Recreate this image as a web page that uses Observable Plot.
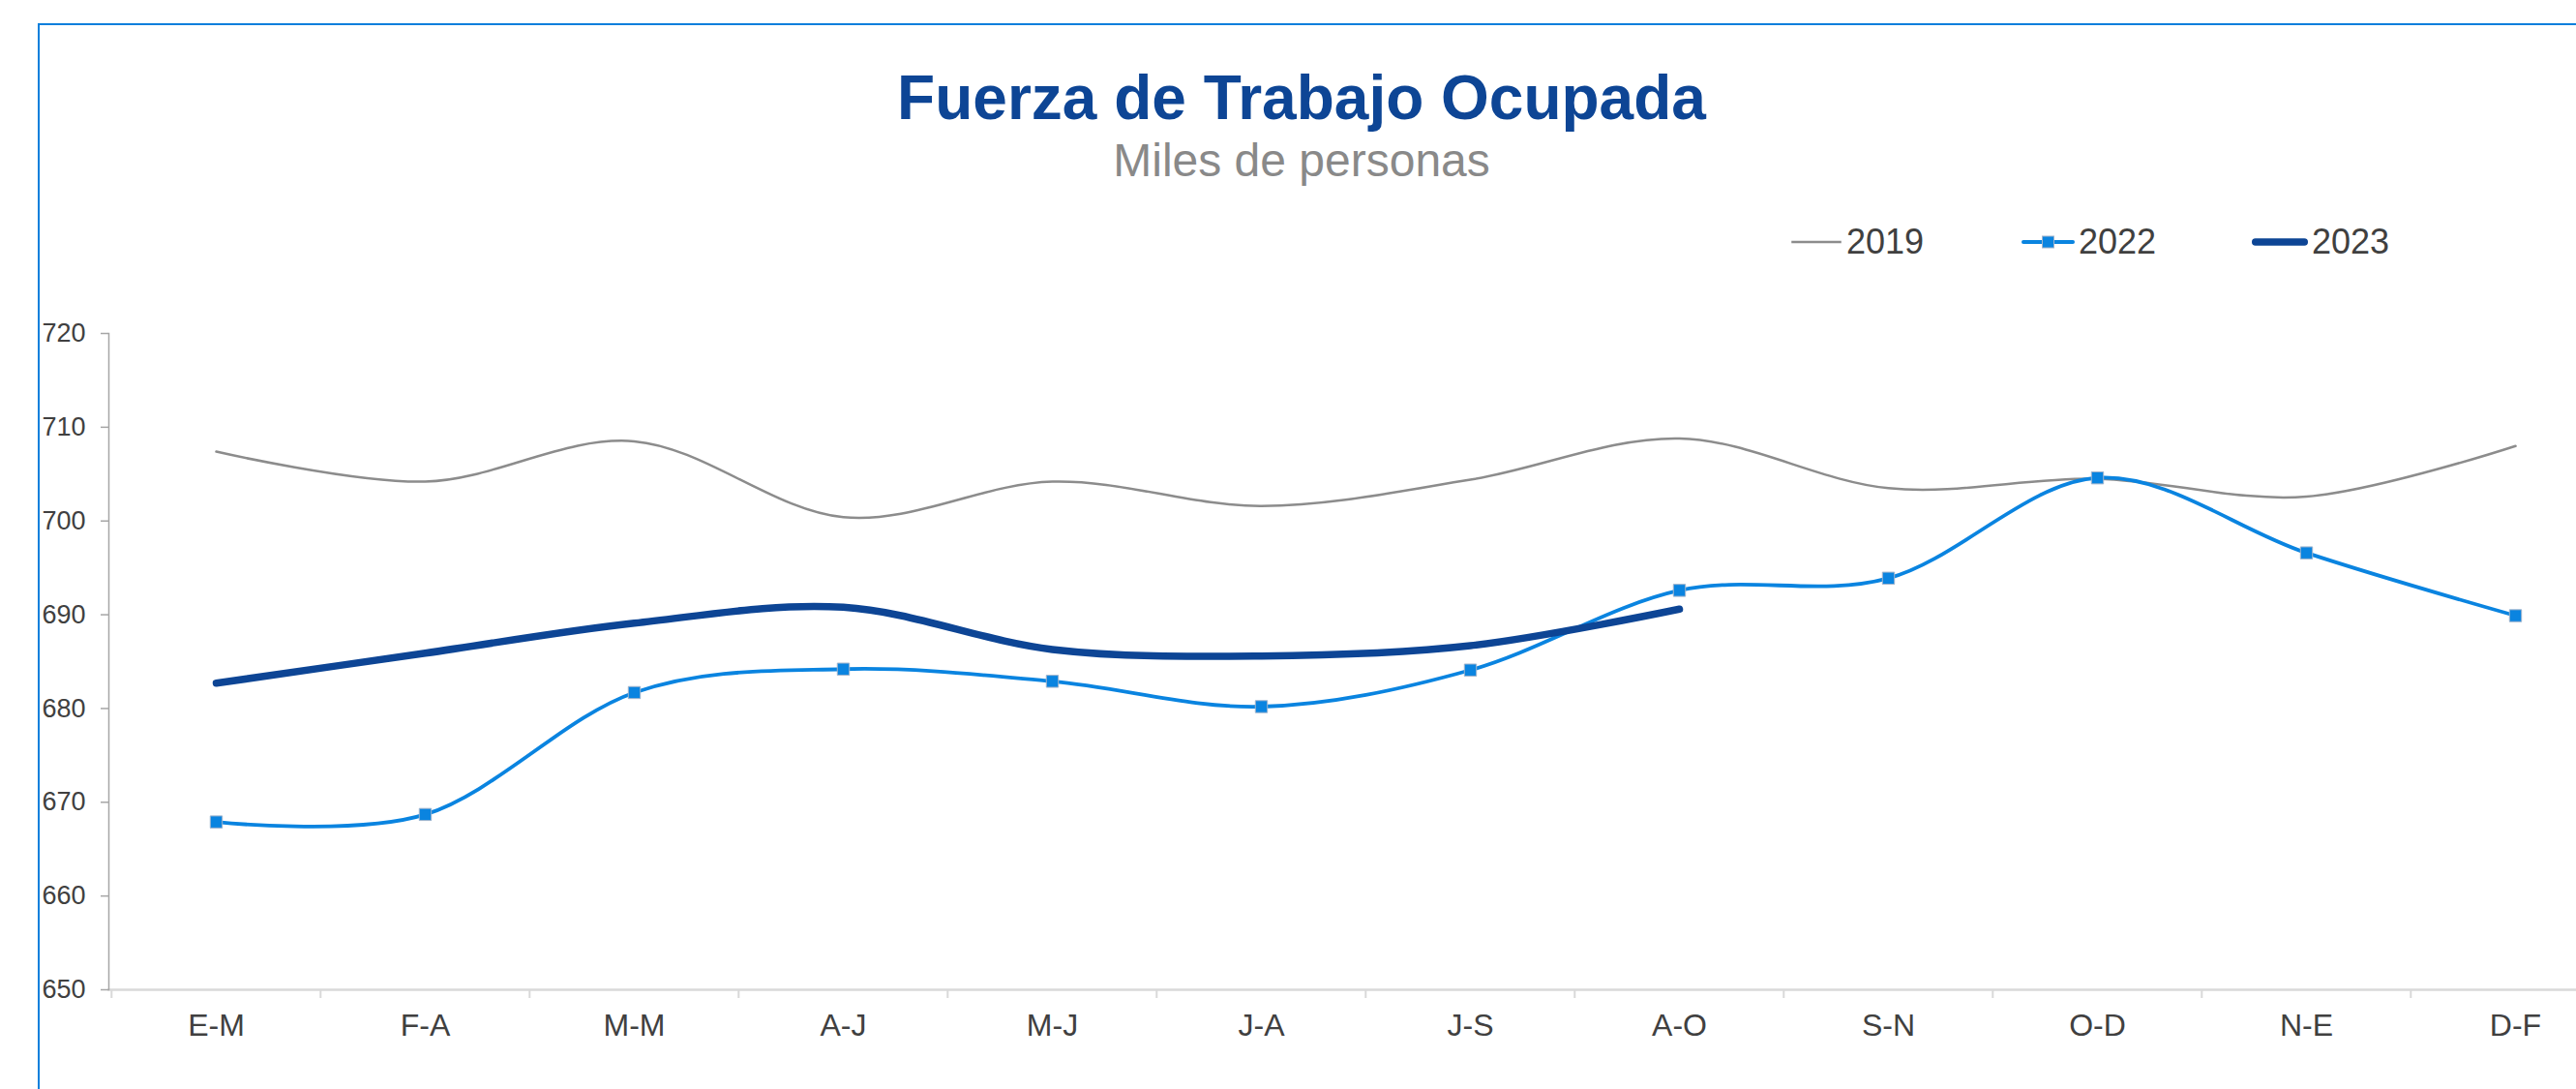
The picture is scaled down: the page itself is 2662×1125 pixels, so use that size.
<!DOCTYPE html>
<html>
<head>
<meta charset="utf-8">
<script src="https://cdn.jsdelivr.net/npm/d3@7"></script>
<script src="https://cdn.jsdelivr.net/npm/@observablehq/plot@0.6"></script>
<style>
  html, body { margin: 0; padding: 0; background: #fff; }
  #page { position: relative; width: 2662px; height: 1125px; overflow: hidden; background: #fff;
          font-family: "Liberation Sans", Arial, sans-serif; }
  #border { position: absolute; left: 39px; top: 24px; right: -10px; bottom: -10px;
            border-top: 2px solid #0a7fdc; border-left: 2px solid #0a7fdc; }
  #chart { position: absolute; left: 0; top: 0; width: 2709px; height: 1125px; }
  #chart svg { max-width: none !important; }
  .t { position: absolute; line-height: 1; white-space: nowrap; }
  #title { top: 69px; left: 0; width: 2690px; text-align: center; font-size: 64px; font-weight: bold; color: #0d4595; }
  #subtitle { top: 142px; left: 0; width: 2690px; text-align: center; font-size: 48px; color: #898989; }
  .leg { position: absolute; top: 232px; height: 36px; display: flex; align-items: center; font-size: 36px; color: #404040; line-height: 1; }
  .leg svg { display: block; margin-right: 4px; }
</style>
</head>
<body>
<div id="page">
  <div id="border"></div>
  <div id="chart"></div>
  <div class="t" id="title">Fuerza de Trabajo Ocupada</div>
  <div class="t" id="subtitle">Miles de personas</div>
  <div id="legend"></div>
</div>
<script>
const periods = ["E-M","F-A","M-M","A-J","M-J","J-A","J-S","A-O","S-N","O-D","N-E","D-F"];
const v2019 = [707.4, 704.2, 708.5, 700.4, 704.2, 701.6, 704.4, 708.8, 703.5, 704.5, 702.6, 708.0];
const v2022 = [667.9, 668.7, 681.7, 684.2, 682.9, 680.2, 684.1, 692.6, 693.9, 704.6, 696.6, 689.9];
const v2023 = [682.7, 685.9, 689.1, 690.8, 686.3, 685.6, 686.7, 690.6];
const yTicks = [650, 660, 670, 680, 690, 700, 710, 720];
const seriesNames = ["2019", "2022", "2023"];

const rows = (vals) => vals.map((v, i) => ({period: periods[i], value: v}));
const r2019 = rows(v2019), r2022 = rows(v2022), r2023 = rows(v2023);

const W = 2709, H = 1125, ML = 112, MR = 0, MT = 344, MB = 103;
const bw = (W - ML - MR) / periods.length;

const C19 = "#8c8c8c", C22 = "#0a84e0", C23 = "#0d4595";

const svg = Plot.plot({
  width: W, height: H,
  marginTop: MT, marginBottom: MB, marginLeft: ML, marginRight: MR,
  style: {fontFamily: "'Liberation Sans', Arial, sans-serif", background: "transparent", overflow: "visible", maxWidth: "none"},
  x: {type: "band", domain: periods, padding: 0, axis: null, label: null},
  y: {domain: [650, 720], axis: null, label: null},
  marks: [
    Plot.frame({anchor: "bottom", stroke: "#d9d9d9", strokeWidth: 2.5}),
    Plot.axisX({tickSize: 9, dx: -bw / 2, tickFormat: () => "", label: null, color: "#d9d9d9", strokeWidth: 2}),
    Plot.axisX({tickSize: 0, tickPadding: 25, fontSize: 32, label: null, color: "#404040"}),
    Plot.frame({anchor: "left", stroke: "#a6a6a6", strokeWidth: 1.5}),
    Plot.axisY({ticks: yTicks, tickSize: 8, tickFormat: () => "", label: null, color: "#a6a6a6", strokeWidth: 1.5}),
    Plot.axisY({ticks: yTicks, tickSize: 0, tickPadding: 24, fontSize: 27, label: null, color: "#404040"}),
    Plot.line(r2019, {x: "period", y: "value", curve: "cardinal", stroke: C19, strokeWidth: 2.5}),
    Plot.line(r2022, {x: "period", y: "value", curve: "cardinal", stroke: C22, strokeWidth: 3.8}),
    Plot.dot(r2022, {x: "period", y: "value", symbol: "square", r: 7, fill: C22, stroke: "#9fb3cc", strokeWidth: 1}),
    Plot.line(r2023, {x: "period", y: "value", curve: "cardinal", stroke: C23, strokeWidth: 7.5, strokeLinecap: "round"})
  ]
});
svg.style.maxWidth = "none";
document.getElementById("chart").appendChild(svg);

// Legend
const legend = document.getElementById("legend");
const legItems = [
  {name: seriesNames[0], left: 1850, w: 54, color: C19, sw: 2.5, marker: false, cap: "butt"},
  {name: seriesNames[1], left: 2089, w: 55, color: C22, sw: 3.8, marker: true, cap: "round"},
  {name: seriesNames[2], left: 2327, w: 58, color: C23, sw: 7.5, marker: false, cap: "round"}
];
for (const it of legItems) {
  const div = document.createElement("div");
  div.className = "leg";
  div.style.left = it.left + "px";
  const s = d3.create("svg").attr("width", it.w).attr("height", 36);
  s.append("line").attr("x1", it.sw / 2).attr("x2", it.w - it.sw / 2).attr("y1", 18).attr("y2", 18)
    .attr("stroke", it.color).attr("stroke-width", it.sw).attr("stroke-linecap", it.cap);
  if (it.marker) {
    s.append("rect").attr("x", it.w / 2 - 6).attr("y", 12).attr("width", 12).attr("height", 12)
      .attr("fill", it.color).attr("stroke", "#9fb3cc").attr("stroke-width", 1);
  }
  div.appendChild(s.node());
  const sp = document.createElement("span");
  sp.textContent = it.name;
  div.appendChild(sp);
  legend.appendChild(div);
}
</script>
</body>
</html>
